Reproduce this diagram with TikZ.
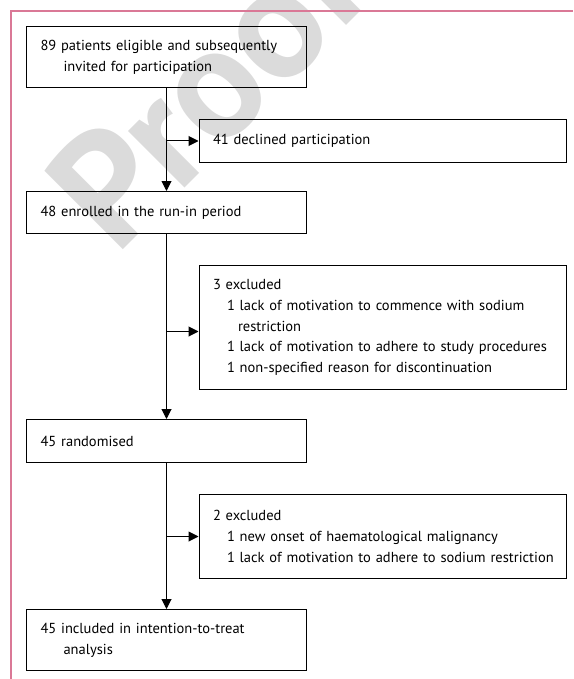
\documentclass[tikz,border=0pt]{standalone}
\usepackage{fontspec}
\setmainfont{PT Sans}
\usepackage{xcolor}
\definecolor{colorFrame}{RGB}{218,120,150}
\colorlet{colorMark}{black!14}
\usepackage{tikz}
\usetikzlibrary{arrows.meta, positioning}
\tikzset{box/.style={draw, line width=1pt, inner xsep=14pt, inner ysep=6pt, align=left}}
\tikzset{leftbox/.style={box, text width=252pt}}
\tikzset{sidebox/.style={box, text width=339pt}}
\newcommand{\lvlone}{\hspace*{14pt}}
\newcommand{\lvltwo}{\hspace*{25pt}}
\newcommand{\lvlhang}{\hspace*{23pt}}

\begin{document}
\begin{tikzpicture}[x=1pt, y=-1pt, >={Triangle[length=10pt, width=10pt]}, line width=1pt, font=\fontsize{14.5}{20.7}\selectfont]
\useasboundingbox (0,0) rectangle (573,679);
\node[rotate=45, text=colorMark, font=\fontsize{160}{160}\selectfont\bfseries] (mark) at (206,88) {Proof};
\draw[colorFrame, line width=1.5pt] (573,11) -- (11,11) -- (11,679);
\node[leftbox, minimum height=61pt, anchor=north west] (n89) at (26,26) {89 patients eligible and subsequently\\\lvlhang invited for participation};
\node[sidebox, minimum height=43pt, below=31pt of n89.south, anchor=north west, xshift=32pt] (n41) {41 declined participation};
\node[leftbox, minimum height=42pt, below=103pt of n89.south] (n48) {48 enrolled in the run-in period};
\node[sidebox, minimum height=124pt, below=31pt of n48.south, anchor=north west, xshift=32pt] (n3) {3 excluded\\\lvlone 1 lack of motivation to commence with sodium\\\lvltwo restriction\\\lvlone 1 lack of motivation to adhere to study procedures\\\lvlone 1 non-specified reason for discontinuation};
\node[leftbox, minimum height=43pt, below=185pt of n48.south] (n45r) {45 randomised};
\node[sidebox, minimum height=84pt, below=31pt of n45r.south, anchor=north west, xshift=32pt] (n2) {2 excluded\\\lvlone 1 new onset of haematological malignancy\\\lvlone \mbox{1 lack of motivation to adhere to sodium restriction}};
\node[leftbox, minimum height=61pt, below=146pt of n45r.south] (n45i) {45 included in intention-to-treat\\\lvlhang analysis};
\draw[->] (n89) -- (n48);
\draw[->] (n89 |- n41) -- (n41);
\draw[->] (n48) -- (n45r);
\draw[->] ([yshift=-4pt]n48 |- n3.west) -- ([yshift=-4pt]n3.west);
\draw[->] (n45r) -- (n45i);
\draw[->] (n45r |- n2) -- (n2);
\end{tikzpicture}
\end{document}
